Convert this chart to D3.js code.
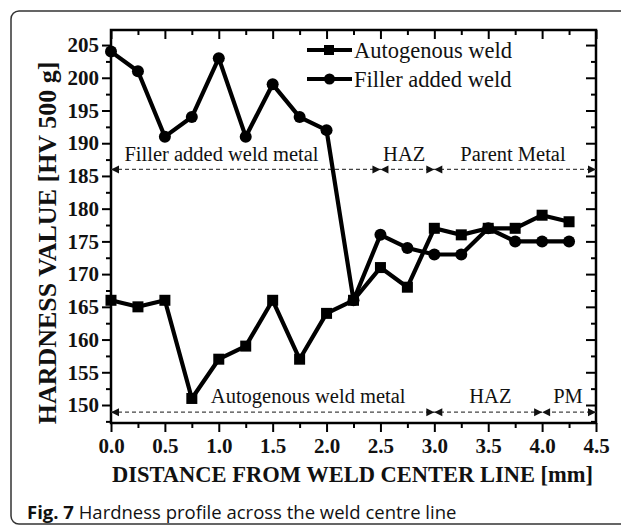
<!DOCTYPE html>
<html>
<head>
<meta charset="utf-8">
<script src="https://cdn.jsdelivr.net/npm/d3@7"></script>
<style>
  body { margin: 0; background: #fff; }
  svg text { fill: #111; }
</style>
</head>
<body>
<div id="chart"></div>
<script>
// values
const distance = [0, 0.25, 0.5, 0.75, 1.0, 1.25, 1.5, 1.75, 2.0, 2.25, 2.5, 2.75, 3.0, 3.25, 3.5, 3.75, 4.0, 4.25];
const autogenous = [166, 165, 166, 151, 157, 159, 166, 157, 164, 166, 171, 168, 177, 176, 177, 177, 179, 178];
const filler = [204, 201, 191, 194, 203, 191, 199, 194, 192, 166, 176, 174, 173, 173, 177, 175, 175, 175];
const xTicks = [0, 0.5, 1, 1.5, 2, 2.5, 3, 3.5, 4, 4.5];
const yTicks = [150, 155, 160, 165, 170, 175, 180, 185, 190, 195, 200, 205];
const seriesNames = ["Autogenous weld", "Filler added weld"];
const fillerZones = ["Filler added weld metal", "HAZ", "Parent Metal"];
const fillerBounds = [0, 2.5, 3.0, 4.5];
const autoZones = ["Autogenous weld metal", "HAZ", "PM"];
const autoBounds = [0, 3.0, 4.0, 4.5];

const W = 621, H = 527;
const margin = { top: 30, left: 111, right: 25, bottom: 104 };
const serif = "'Liberation Serif', 'Times New Roman', serif";

const svg = d3.select("#chart").append("svg")
    .attr("width", W)
    .attr("height", H);

// figure frame
svg.append("rect")
    .attr("x", 11).attr("y", 11)
    .attr("width", 660).attr("height", 513)
    .attr("rx", 8)
    .attr("fill", "none")
    .attr("stroke", "#333")
    .attr("stroke-width", 1.5);

const x = d3.scaleLinear().domain([0, 4.5]).range([margin.left, W - margin.right]);
const y = d3.scaleLinear().domain([147.25, 207.3]).range([H - margin.bottom, margin.top]);
const x0 = margin.left, x1 = W - margin.right, yTop = margin.top, yBot = H - margin.bottom;

const minorX = d3.range(0.25, 4.5, 0.5);
const minorY = d3.range(147.5, 207.5, 5);

function styleAxis(g) {
  g.selectAll(".domain").remove();
  g.selectAll("line").attr("stroke", "#000").attr("stroke-width", 2);
}

// bottom axis with labels
svg.append("g")
    .attr("transform", `translate(0,${yBot})`)
    .call(d3.axisBottom(x).tickValues(xTicks).tickFormat(d3.format(".1f")).tickSize(9).tickPadding(6))
    .call(styleAxis)
    .selectAll("text")
    .style("font-family", serif).style("font-weight", "bold").style("font-size", "21px").attr("fill", "#111");
svg.append("g")
    .attr("transform", `translate(0,${yBot})`)
    .call(d3.axisBottom(x).tickValues(minorX).tickFormat("").tickSize(5))
    .call(styleAxis);

// top axis, ticks inward
svg.append("g")
    .attr("transform", `translate(0,${yTop})`)
    .call(d3.axisTop(x).tickValues(xTicks).tickFormat("").tickSize(-9))
    .call(styleAxis);
svg.append("g")
    .attr("transform", `translate(0,${yTop})`)
    .call(d3.axisTop(x).tickValues(minorX).tickFormat("").tickSize(-5))
    .call(styleAxis);

// left axis with labels
svg.append("g")
    .attr("transform", `translate(${x0},0)`)
    .call(d3.axisLeft(y).tickValues(yTicks).tickSize(9).tickPadding(3))
    .call(styleAxis)
    .selectAll("text")
    .style("font-family", serif).style("font-weight", "bold").style("font-size", "21px").attr("fill", "#111");
svg.append("g")
    .attr("transform", `translate(${x0},0)`)
    .call(d3.axisLeft(y).tickValues(minorY).tickFormat("").tickSize(5))
    .call(styleAxis);

// right axis, ticks inward
svg.append("g")
    .attr("transform", `translate(${x1},0)`)
    .call(d3.axisRight(y).tickValues(yTicks).tickFormat("").tickSize(-10))
    .call(styleAxis);
svg.append("g")
    .attr("transform", `translate(${x1},0)`)
    .call(d3.axisRight(y).tickValues(minorY).tickFormat("").tickSize(-5))
    .call(styleAxis);

// plot frame
svg.append("rect")
    .attr("x", x0).attr("y", yTop)
    .attr("width", x1 - x0).attr("height", yBot - yTop)
    .attr("fill", "none")
    .attr("stroke", "#000")
    .attr("stroke-width", 2.5);

// axis titles
svg.append("text")
    .attr("x", (x0 + x1) / 2 - 1)
    .attr("y", 482)
    .attr("text-anchor", "middle")
    .style("font-family", serif).style("font-weight", "bold").style("font-size", "22.5px")
    .text("DISTANCE FROM WELD CENTER LINE [mm]");

svg.append("text")
    .attr("transform", "translate(47,243) rotate(-90)")
    .attr("text-anchor", "middle")
    .attr("dominant-baseline", "central")
    .style("font-family", serif).style("font-weight", "bold").style("font-size", "26px")
    .text("HARDNESS VALUE [HV 500 g]");

// zone annotations (dashed lines with arrow heads)
function arrowHead(g, px, py, dir) {
  // dir = -1 points left, 1 points right
  g.append("path")
    .attr("d", `M${px},${py} L${px - dir * 8},${py - 4} L${px - dir * 8},${py + 4} Z`)
    .attr("fill", "#111");
}

function zoneBar(bounds, names, level, labelLevel, labelShift) {
  const g = svg.append("g");
  const py = y(level);
  g.append("line")
    .attr("x1", x(bounds[0])).attr("x2", x(bounds[bounds.length - 1]))
    .attr("y1", py).attr("y2", py)
    .attr("stroke", "#444")
    .attr("stroke-width", 1.3)
    .attr("stroke-dasharray", "4,3");
  bounds.forEach((b, i) => {
    if (i > 0) arrowHead(g, x(b), py, 1);
    if (i < bounds.length - 1) arrowHead(g, x(b), py, -1);
  });
  names.forEach((n, i) => {
    const mid = (bounds[i] + bounds[i + 1]) / 2 + (labelShift[i] || 0);
    g.append("text")
      .attr("x", x(mid))
      .attr("y", y(labelLevel))
      .attr("text-anchor", "middle")
      .attr("dominant-baseline", "central")
      .style("font-family", serif).style("font-size", "20.5px")
      .attr("fill", "#222")
      .text(n);
  });
}

zoneBar(fillerBounds, fillerZones, 186, 188.3, [-0.225, -0.03, -0.02]);
zoneBar(autoBounds, autoZones, 148.9, 151.3, [0.33, 0.02, -0.01]);

// series lines
const line = d3.line()
    .x(d => x(d[0]))
    .y(d => y(d[1]));

const fillerPts = distance.map((d, i) => [d, filler[i]]);
const autoPts = distance.map((d, i) => [d, autogenous[i]]);

[fillerPts, autoPts].forEach(pts => {
  svg.append("path")
    .datum(pts)
    .attr("d", line)
    .attr("fill", "none")
    .attr("stroke", "#000")
    .attr("stroke-width", 4.2)
    .attr("stroke-linejoin", "round");
});

svg.append("g").selectAll("circle")
    .data(fillerPts)
    .join("circle")
    .attr("cx", d => x(d[0]))
    .attr("cy", d => y(d[1]))
    .attr("r", 6)
    .attr("fill", "#000");

svg.append("g").selectAll("rect")
    .data(autoPts)
    .join("rect")
    .attr("x", d => x(d[0]) - 5.5)
    .attr("y", d => y(d[1]) - 5.5)
    .attr("width", 11)
    .attr("height", 11)
    .attr("fill", "#000");

// legend
const legend = svg.append("g").attr("transform", "translate(307,50)");
seriesNames.forEach((name, i) => {
  const row = legend.append("g").attr("transform", `translate(0,${i * 29})`);
  row.append("line")
    .attr("x1", 0).attr("x2", 45)
    .attr("stroke", "#000").attr("stroke-width", 4);
  if (i === 0) {
    row.append("rect").attr("x", 17).attr("y", -5).attr("width", 10).attr("height", 10).attr("fill", "#000");
  } else {
    row.append("circle").attr("cx", 22.5).attr("r", 5.5).attr("fill", "#000");
  }
  row.append("text")
    .attr("x", 47)
    .attr("dominant-baseline", "central")
    .style("font-family", serif).style("font-size", "22.5px")
    .attr("fill", "#222")
    .text(name);
});

// caption
const cap = svg.append("text")
    .attr("x", 27)
    .attr("y", 519)
    .style("font-family", "'Open Sans', 'Noto Sans', sans-serif")
    .style("font-size", "18.5px")
    .attr("fill", "#222");
cap.append("tspan").style("font-weight", "bold").text("Fig. 7");
cap.append("tspan").text(" Hardness profile across the weld centre line");
</script>
</body>
</html>
